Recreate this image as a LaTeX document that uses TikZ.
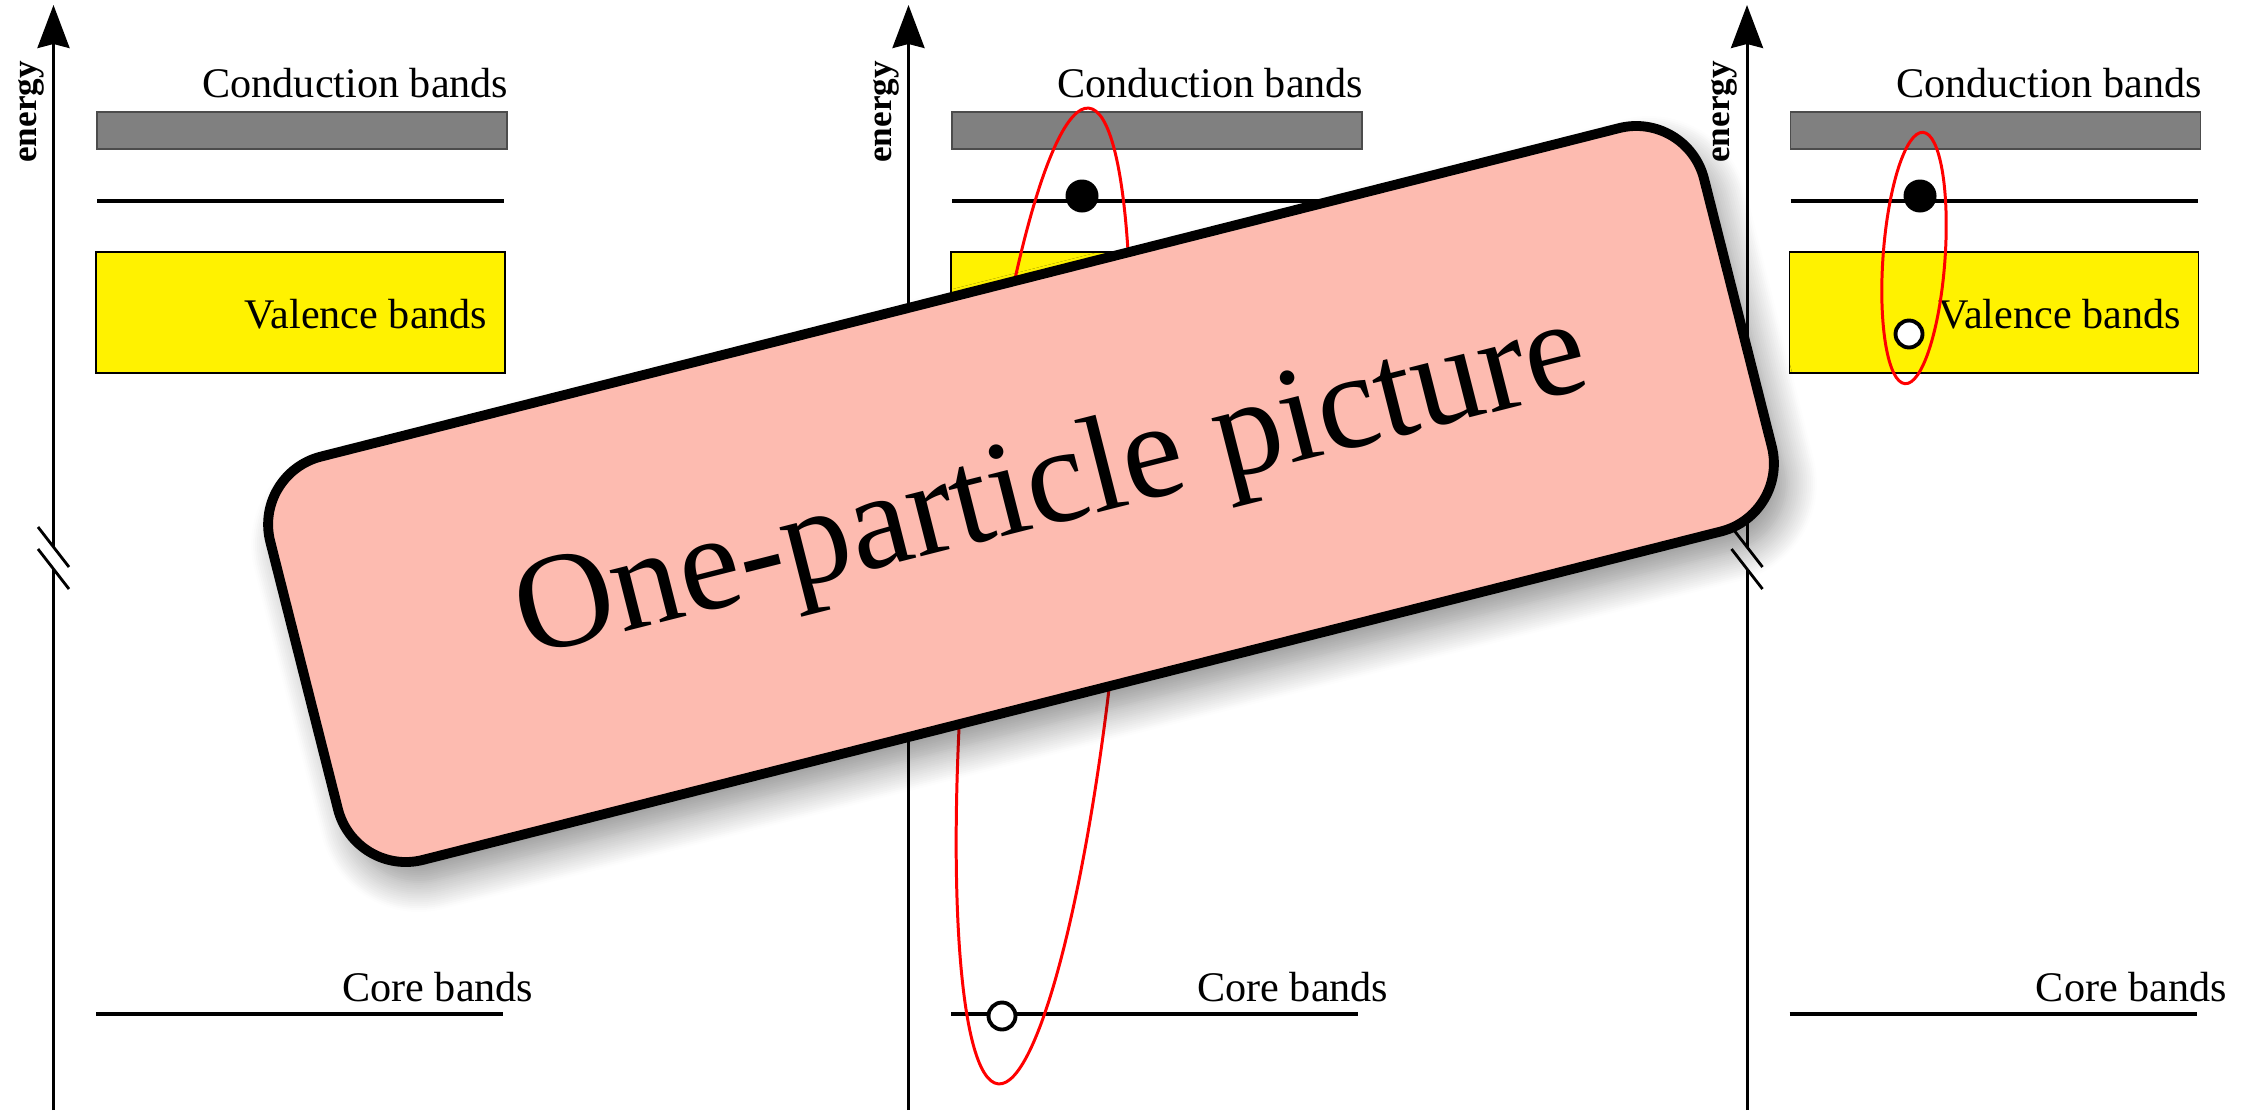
\documentclass[tikz,border=0pt]{standalone}
\usepackage{fontspec}
\setmainfont{Liberation Serif}
\usetikzlibrary{arrows.meta,shadows.blur}
\definecolor{bannerpink}{RGB}{253,187,176}

\begin{document}
\begin{tikzpicture}[x=1cm,y=1cm,font=\fontsize{12}{14}\selectfont,
  axis/.style={line width=.85pt},
  axistip/.style={-{Stealth[length=4.3mm,width=3.2mm,inset=.4mm]}},
  axisbreak/.style={line width=.8pt},
  condband/.style={fill=black!50,draw=black!70,line width=.4pt},
  valband/.style={fill=yellow,draw=black,line width=.4pt},
  level/.style={line width=1pt},
  bandlabel/.style={anchor=base east,inner sep=0pt},
  energylabel/.style={rotate=90,inner sep=0pt,font=\bfseries\fontsize{10}{12}\selectfont},
  electron/.style={circle,fill=black,inner sep=0pt,minimum size=3.3mm},
  hole/.style={circle,draw=black,fill=white,line width=1.1pt,inner sep=0pt,minimum size=2.7mm},
  exciton/.style={red,line width=.85pt},
  banner/.style={draw=black,fill=bannerpink,line width=2.8pt,rounded corners=.7cm,
    minimum width=14.79cm,minimum height=4.16cm,inner sep=0pt,rotate=14.2,
    blur shadow={shadow xshift=1.3mm,shadow yshift=-2mm,shadow blur radius=3mm,
      shadow blur steps=16,shadow opacity=45}},
  bannertext/.style={inner sep=0pt,rotate=14.2,font=\fontsize{39}{44}\selectfont}]
\useasboundingbox (0,0) rectangle (22.52,11.10);

% left panel
\draw[axis] (0.535,0)--(0.535,5.410);
\draw[axis,axistip] (0.535,5.630)--(0.535,11.050);
\draw[axisbreak] (0.380,5.830)--(0.690,5.430);
\draw[axisbreak] (0.380,5.610)--(0.690,5.210);
\node[energylabel] (en1) at (0.310,9.980) {energy};
\draw[condband] (0.970,9.610) rectangle (5.070,9.980);
\node[bandlabel] (cb1) at (5.090,10.130) {Conduction bands};
\draw[level] (0.970,9.090)--(5.040,9.090);
\draw[valband] (0.960,7.370) rectangle (5.050,8.580);
\node[bandlabel] (vb1) at (4.880,7.820) {Valence bands};
\draw[level] (0.960,0.960)--(5.030,0.960);
\node[bandlabel] (core1) at (5.340,1.090) {Core bands};

% middle panel
\draw[axis] (9.085,0)--(9.085,5.410);
\draw[axis,axistip] (9.085,5.630)--(9.085,11.050);
\draw[axisbreak] (8.930,5.830)--(9.240,5.430);
\draw[axisbreak] (8.930,5.610)--(9.240,5.210);
\node[energylabel] (en2) at (8.860,9.980) {energy};
\draw[condband] (9.520,9.610) rectangle (13.620,9.980);
\node[bandlabel] (cb2) at (13.640,10.130) {Conduction bands};
\draw[level] (9.520,9.090)--(13.590,9.090);
\draw[valband] (9.510,7.370) rectangle (13.600,8.580);
\draw[level] (9.510,0.960)--(13.580,0.960);
\node[bandlabel] (core2) at (13.890,1.090) {Core bands};
\draw[exciton,rotate around={-5.3:(10.435,5.140)}] (10.435,5.140) ellipse [x radius=.75,y radius=4.90];
\node[electron] (e2) at (10.820,9.140) {};
\node[hole] (h2) at (10.020,0.940) {};

% right panel
\draw[axis] (17.470,0)--(17.470,5.410);
\draw[axis,axistip] (17.470,5.630)--(17.470,11.050);
\draw[axisbreak] (17.315,5.830)--(17.625,5.430);
\draw[axisbreak] (17.315,5.610)--(17.625,5.210);
\node[energylabel] (en3) at (17.245,9.980) {energy};
\draw[condband] (17.905,9.610) rectangle (22.005,9.980);
\node[bandlabel] (cb3) at (22.025,10.130) {Conduction bands};
\draw[level] (17.905,9.090)--(21.975,9.090);
\draw[valband] (17.895,7.370) rectangle (21.985,8.580);
\node[bandlabel] (vb3) at (21.815,7.820) {Valence bands};
\draw[level] (17.895,0.960)--(21.965,0.960);
\node[bandlabel] (core3) at (22.275,1.090) {Core bands};
\draw[exciton,rotate around={-4.1:(19.140,8.520)}] (19.140,8.520) ellipse [x radius=.31,y radius=1.26];
\node[electron] (e3) at (19.200,9.140) {};
\node[hole] (h3) at (19.090,7.760) {};

% banner on top
\node[banner] (banner) at (10.210,6.160) {};
\node[bannertext] (title) at (10.520,6.200) {One-particle picture};
\end{tikzpicture}
\end{document}
